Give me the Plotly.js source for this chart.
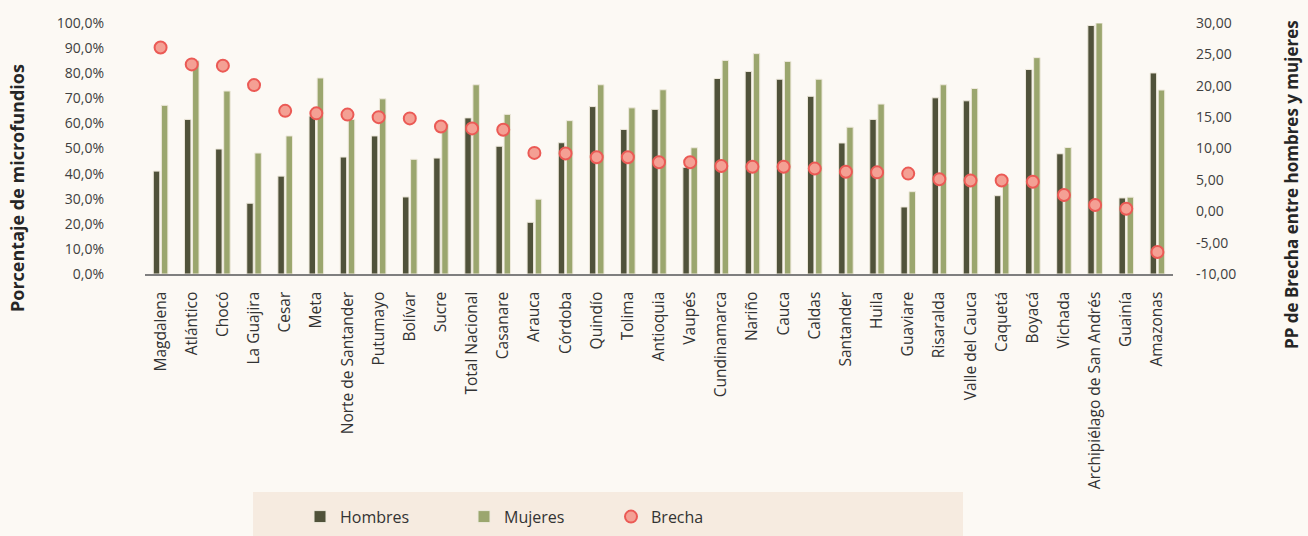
<!DOCTYPE html>
<html>
<head>
<meta charset="utf-8">
<script src="https://cdn.plot.ly/plotly-3.0.1.min.js"></script>
<style>html,body{margin:0;padding:0;background:#fcf9f4;}#chart{width:1308px;height:536px;}</style>
</head>
<body>
<div id="chart"></div>
<script>
const categories = ["Magdalena","Atlántico","Chocó","La Guajira","Cesar","Meta","Norte de Santander","Putumayo","Bolívar","Sucre","Total Nacional","Casanare","Arauca","Córdoba","Quindío","Tolima","Antioquia","Vaupés","Cundinamarca","Nariño","Cauca","Caldas","Santander","Huila","Guaviare","Risaralda","Valle del Cauca","Caquetá","Boyacá","Vichada","Archipiélago de San Andrés","Guainía","Amazonas"];
const hombres = [41.0,61.6,49.8,28.2,39.0,62.9,46.6,55.0,30.7,46.2,62.2,50.9,20.6,52.3,66.7,57.6,65.6,42.5,77.9,80.7,77.6,70.8,52.2,61.6,26.7,70.2,69.0,31.2,81.5,47.9,99.0,30.3,80.1];
const mujeres = [67.2,85.0,72.9,48.2,55.0,78.1,61.6,69.8,45.7,59.7,75.4,63.6,29.8,61.1,75.4,66.2,73.4,50.3,85.1,87.8,84.7,77.6,58.5,67.7,32.8,75.4,73.9,36.2,86.2,50.4,100.0,30.6,73.3];
const brecha = [26.1,23.4,23.2,20.1,16.0,15.6,15.4,15.0,14.8,13.5,13.2,13.0,9.3,9.2,8.6,8.6,7.8,7.8,7.2,7.1,7.1,6.8,6.3,6.2,6.0,5.1,4.9,4.9,4.7,2.6,1.0,0.4,-6.5];
const leftTickVals = [0,10,20,30,40,50,60,70,80,90,100];
const leftTickText = ["0,0%","10,0%","20,0%","30,0%","40,0%","50,0%","60,0%","70,0%","80,0%","90,0%","100,0%"];
const rightTickVals = [-10,-5,0,5,10,15,20,25,30];
const rightTickText = ["-10,00","-5,00","0,00","5,00","10,00","15,00","20,00","25,00","30,00"];

const FONT = "'Open Sans', 'Noto Sans', sans-serif";
const traces = [
  {type:'bar', name:'Hombres', x:categories, y:hombres, yaxis:'y', legend:'legend',
   marker:{color:'#50523a', line:{color:'#eee9dc', width:1}}},
  {type:'bar', name:'Mujeres', x:categories, y:mujeres, yaxis:'y', legend:'legend2',
   marker:{color:'#9ba66e', line:{color:'#eee9dc', width:1}}},
  {type:'scatter', mode:'markers', name:'Brecha', x:categories, y:brecha, yaxis:'y2', legend:'legend3',
   marker:{size:12, color:'#f4a094', line:{color:'#eb5a55', width:2}}}
];
const legendBase = {orientation:'h', yref:'container', xref:'container', yanchor:'middle', xanchor:'left', y:0.036,
  bgcolor:'rgba(0,0,0,0)', font:{family:FONT, size:16, color:'#333333'}, itemsizing:'trace'};
const layout = {
  width:1308, height:536,
  margin:{l:145, r:135, t:23, b:262, pad:0, autoexpand:false},
  paper_bgcolor:'#fcf9f4', plot_bgcolor:'#fcf9f4',
  barmode:'group', bargap:0.48, bargroupgap:0.2,
  showlegend:true,
  xaxis:{type:'category', range:[-0.5, categories.length-0.5], automargin:false, showline:true, linecolor:'#7f7f7f', linewidth:1.5,
    showgrid:false, zeroline:false, tickangle:-90, ticks:'', ticklabelstandoff:10,
    tickfont:{family:FONT, size:15.5, color:'#333333'}},
  yaxis:{range:[0,100], automargin:false, tickvals:leftTickVals, ticktext:leftTickText, showgrid:false, zeroline:false,
    showline:false, ticks:'', ticklabelstandoff:40, tickfont:{family:FONT, size:14, color:'#404040'}},
  yaxis2:{range:[-10,30], automargin:false, overlaying:'y', side:'right', tickvals:rightTickVals, ticktext:rightTickText,
    showgrid:false, zeroline:false, showline:false, ticks:'', ticklabelstandoff:22,
    tickfont:{family:FONT, size:14, color:'#404040'}},
  legend:Object.assign({}, legendBase, {x:300/1308}),
  legend2:Object.assign({}, legendBase, {x:464/1308}),
  legend3:Object.assign({}, legendBase, {x:611/1308}),
  shapes:[{type:'rect', xref:'paper', yref:'paper', x0:0.1051, x1:0.7957, y0:-1.044, y1:-0.8685,
    fillcolor:'#f6ebe0', line:{width:0}, layer:'below'}],
  annotations:[
    {text:'<b>Porcentaje de microfundios</b>', xref:'paper', yref:'paper', x:-0.1245, y:0.3426,
     xanchor:'center', yanchor:'middle', textangle:-90, showarrow:false, font:{family:FONT, size:18, color:'#262626'}},
    {text:'<b>PP de Brecha entre hombres y mujeres</b>', xref:'paper', yref:'paper', x:1.1158, y:0.3546,
     xanchor:'center', yanchor:'middle', textangle:-90, showarrow:false, font:{family:FONT, size:17, color:'#262626'}}
  ]
};
Plotly.newPlot('chart', traces, layout, {displayModeBar:false, staticPlot:true});
</script>
</body>
</html>
